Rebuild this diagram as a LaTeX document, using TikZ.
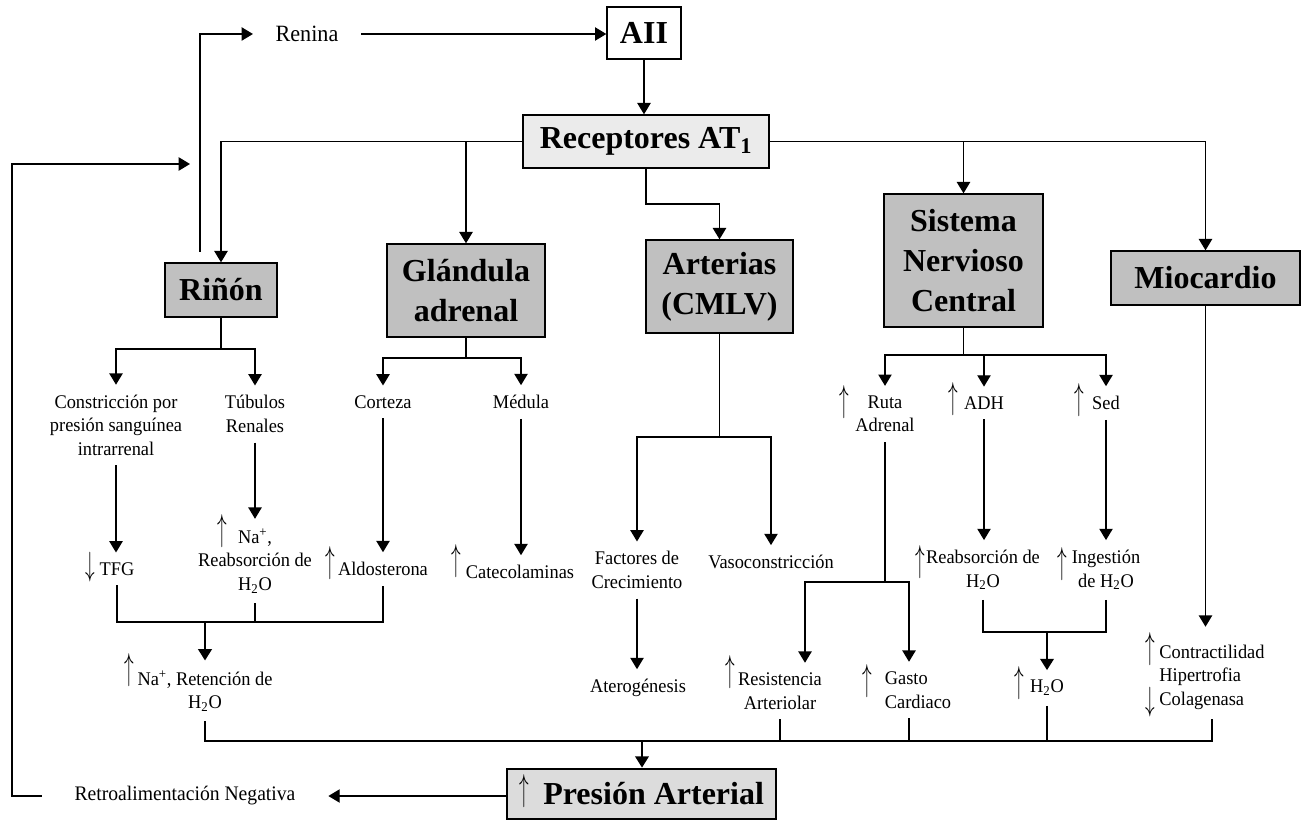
\documentclass[tikz,border=0pt]{standalone}
\usepackage{fontspec}
\setmainfont{Liberation Serif}
\newfontfamily\smallfont{Liberation Serif}[FakeStretch=0.95]
\usepackage{graphicx}
\usetikzlibrary{arrows.meta}
\definecolor{boxgray}{RGB}{192,192,192}
\definecolor{recgray}{RGB}{235,235,235}
\definecolor{presgray}{RGB}{220,220,220}
\newcommand{\upa}{\scalebox{1}[1.95]{$\uparrow$}}
\newcommand{\dna}{\scalebox{1}[1.75]{$\downarrow$}}
\begin{document}
\begin{tikzpicture}[x=0.75pt,y=-0.75pt,
  ln/.style={line width=1pt},
  arr/.style={line width=1pt,-{Triangle[length=8.5pt,width=10pt]}},
  thk/.style={line width=2pt},
  box/.style={draw,line width=1pt,fill=boxgray,font=\fontsize{24}{30}\selectfont\bfseries,align=center,inner sep=0pt},
  txt/.style={font=\smallfont\fontsize{14.5}{17.6}\selectfont,align=center,inner sep=0pt,outer ysep=7.5pt},
  sym/.style={font=\fontsize{15}{15}\selectfont,inner sep=0pt}
]
\useasboundingbox (0,0) rectangle (1304,820);

% boxes
\node[box,fill=white,minimum width=55.5pt,minimum height=39pt] (aii) at (644,33) {AII};
\node[box,fill=recgray,minimum width=184.5pt,minimum height=39.75pt] (rec) at (646,141.5) {Receptores AT\textsubscript{1}};
\node[box,minimum width=84pt,minimum height=40.5pt] (rinon) at (221,290) {Riñón};
\node[box,minimum width=118.5pt,minimum height=69.75pt] (glan) at (466,290.5) {Glándula\\adrenal};
\node[box,minimum width=110.25pt,minimum height=69.75pt] (art) at (719.5,286.5) {Arterias\\(CMLV)};
\node[box,minimum width=119.25pt,minimum height=99.75pt] (snc) at (963.5,260.5) {Sistema\\Nervioso\\Central};
\node[box,minimum width=141.75pt,minimum height=40.5pt] (mio) at (1205.5,278) {Miocardio};
\node[box,fill=presgray,line width=2pt,minimum width=201.75pt,minimum height=37.5pt] (pres) at (641.5,794) {\smash{\raisebox{3pt}{\mdseries\fontsize{15}{15}\selectfont\upa}}\hspace{11pt}Presión Arterial};

% texts
\node[txt,font=\smallfont\fontsize{17.5}{20}\selectfont,outer xsep=17pt] (renina) at (307,34) {Renina};
\node[txt,font=\smallfont\fontsize{15.5}{18}\selectfont,outer xsep=24.75pt] (retro) at (185,796) {Retroalimentación Negativa};
\node[txt] (constr) at (116,425) {Constricción por\\presión sanguínea\\intrarrenal};
\node[txt] (tub) at (255,414) {Túbulos\\Renales};
\node[txt] (tfg) at (117,569) {TFG};
\node[txt] (na1) at (255,561) {Na\textsuperscript{+},\\Reabsorción de\\H\textsubscript{2}O};
\node[txt] (corteza) at (383,402) {Corteza};
\node[txt] (medula) at (521,402) {Médula};
\node[txt] (aldo) at (383,569) {Aldosterona};
\node[txt] (cate) at (520,572) {Catecolaminas};
\node[txt] (reten) at (205,691) {Na\textsuperscript{+}, Retención de\\H\textsubscript{2}O};
\node[txt] (factores) at (637,570) {Factores de\\Crecimiento};
\node[txt] (vaso) at (771,562) {Vasoconstricción};
\node[txt] (atero) at (638,688) {Aterogénesis};
\node[txt] (ruta) at (885,414) {Ruta\\Adrenal};
\node[txt] (adh) at (984,403) {ADH};
\node[txt] (sed) at (1106,403) {Sed};
\node[txt] (reab2) at (983,570) {Reabsorción de\\H\textsubscript{2}O};
\node[txt] (ing) at (1106,570) {Ingestión\\de H\textsubscript{2}O};
\node[txt] (resis) at (780,691) {Resistencia\\Arteriolar};
\node[txt,align=left] (gasto) at (918,690) {Gasto\\Cardiaco};
\node[txt] (h2o) at (1047,688) {H\textsubscript{2}O};
\node[txt,align=left] (contr) at (1212,677) {Contractilidad\\Hipertrofia\\Colagenasa};

% arrow glyphs
\node[sym] (s1) at (222,531) {\upa};
\node[sym] (s2) at (90,567) {\dna};
\node[sym] (s3) at (330,563) {\upa};
\node[sym] (s4) at (456,561) {\upa};
\node[sym] (s5) at (129,670) {\upa};
\node[sym] (s6) at (844,402) {\upa};
\node[sym] (s7) at (953,399) {\upa};
\node[sym] (s8) at (1079,400) {\upa};
\node[sym] (s9) at (920,562) {\upa};
\node[sym] (s10) at (1062,564) {\upa};
\node[sym] (s11) at (730,672) {\upa};
\node[sym] (s12) at (867,681) {\upa};
\node[sym] (s13) at (1019,683) {\upa};
\node[sym] (s14) at (1150,649) {\upa};
\node[sym] (s15) at (1150,702) {\dna};

% coordinates
\coordinate (rs) at (200,252);
\coordinate (fbl) at (12,164);
\coordinate (fbt) at (190,164);
\coordinate (ra) at (719.5,204);
\coordinate (rj) at (221,349);
\coordinate (gj) at (466,358);
\coordinate (lj) at (205,622);
\coordinate (bj) at (642,741);
\coordinate (aj) at (719.5,437);
\coordinate (sj) at (963.5,355);
\coordinate (hj) at (1047,632);
\coordinate (rtj) at (885,582);
\coordinate (gn) at ([xshift=-6.75pt]gasto.north);
\coordinate (gs) at ([xshift=-6.75pt]gasto.south);
\coordinate (rn) at ([xshift=18.75pt]resis.north);
\coordinate (cn) at ([yshift=6pt]contr.north);

% top part
\draw[arr] (aii.south) -- (aii.south |- rec.north);
\draw[arr] (rec.west) -| (rinon.north);
\draw[arr] (rec.west -| glan.north) -- (glan.north);
\draw[arr] (rec.south) |- (ra) -- (art.north);
\draw[arr] (rec.east) -| (mio.north);
\draw[arr] (rec.east -| snc.north) -- (snc.north);
\draw[arr] (rs) |- (renina.west);
\draw[arr] (renina.east) -- (renina.east -| aii.west);
\draw[arr] (pres.west |- retro.east) -- (retro.east);
\draw[arr] (retro.west) -| (fbl) -- (fbt);

% rinon
\draw[ln] (rinon.south) -- (rj);
\draw[arr] (rj) -| (constr.north);
\draw[arr] (rj) -| (tub.north);
\draw[arr] (constr.south) -- (constr.south |- tfg.north);
\draw[arr] (tub.south) -- (tub.south |- na1.north);

% glandula
\draw[ln] (glan.south) -- (gj);
\draw[arr] (gj) -| (corteza.north);
\draw[arr] (gj) -| (medula.north);
\draw[arr] (corteza.south) -- (corteza.south |- aldo.north);
\draw[arr] (medula.south) -- (medula.south |- cate.north);

% left merge
\draw[ln] (tfg.south) |- (lj) -- (aldo.south |- lj) -- (aldo.south);
\draw[ln] (na1.south) -- (na1.south |- lj);
\draw[thk] (na1.south |- lj) -- (lj);
\draw[arr,thk] (lj) -- (lj |- reten.north);

% arterias
\draw[ln] (art.south) -- (aj);
\draw[arr] (aj) -| (factores.north);
\draw[arr] (aj) -| (vaso.north);
\draw[arr] (factores.south) -- (factores.south |- atero.north);

% SNC
\draw[ln] (snc.south) -- (sj);
\draw[arr] (sj) -| (ruta.north);
\draw[arr] (sj) -| (adh.north);
\draw[arr] (sj) -| (sed.north);
\draw[arr] (adh.south) -- (adh.south |- reab2.north);
\draw[arr] (sed.south) -- (sed.south |- ing.north);
\draw[ln] (reab2.south) |- (hj);
\draw[ln] (ing.south) |- (hj);
\draw[arr,thk] (hj) -- (hj |- h2o.north);
\draw[ln] (ruta.south) -- (rtj);
\draw[arr] (rtj) -| (rn);
\draw[arr] (rtj) -| (gn);

% miocardio
\draw[arr] (mio.south) -- (mio.south |- cn);

% bottom bus
\draw[ln] (reten.south) |- (bj);
\draw[arr,thk] (bj) -- (bj |- pres.north);
\draw[thk] (bj) -- (h2o.south |- bj);
\draw[ln] (h2o.south |- bj) -| (contr.south);
\draw[ln] (h2o.south) -- (h2o.south |- bj);
\draw[ln] (resis.south) -- (resis.south |- bj);
\draw[ln] (gs) -- (gs |- bj);
\end{tikzpicture}
\end{document}
